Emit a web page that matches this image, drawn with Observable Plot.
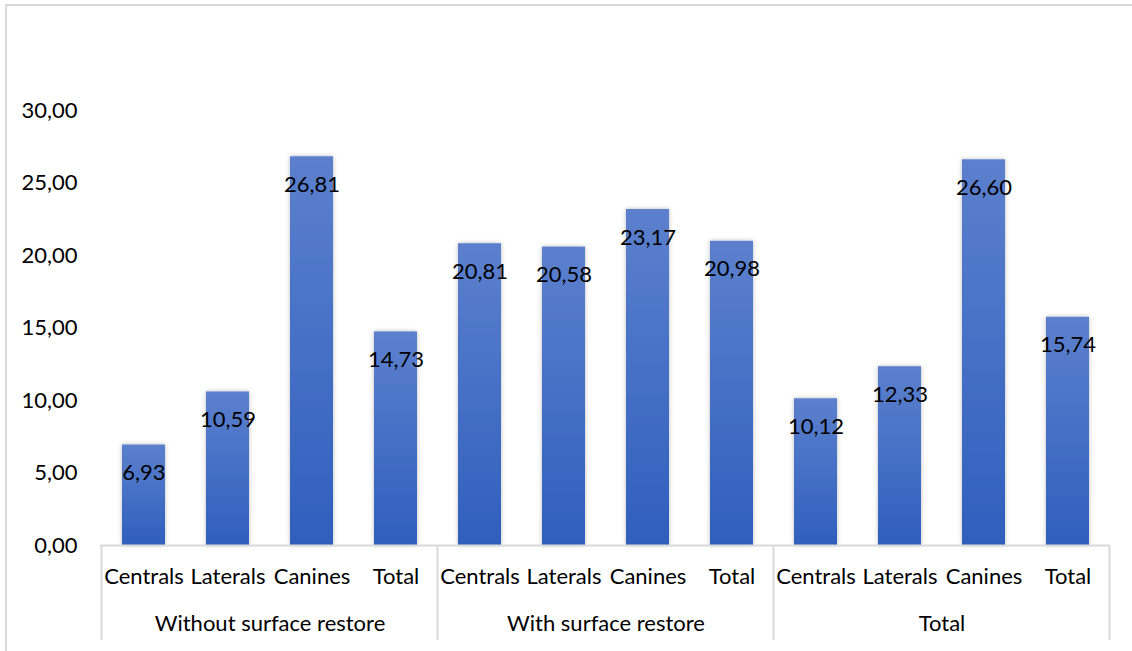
<!DOCTYPE html>
<html>
<head>
<meta charset="utf-8">
<script src="https://cdn.jsdelivr.net/npm/d3@7"></script>
<script src="https://cdn.jsdelivr.net/npm/@observablehq/plot@0.6"></script>
<style>
  html, body { margin: 0; padding: 0; background: #fff; }
  #frame { position: absolute; left: 5px; top: 4px; width: 1140px; height: 660px; border: 2px solid #d9d9d9; box-sizing: border-box; }
  #chart { position: absolute; left: 0; top: 0; }
  #chart svg { background: transparent; overflow: visible; }
</style>
</head>
<body>
<div id="frame"></div>
<div id="chart"></div>
<script>
const groups = ["Without surface restore", "With surface restore", "Total"];
const categories = ["Centrals", "Laterals", "Canines", "Total"];
const withoutRestore = [6.93, 10.59, 26.81, 14.73];
const withRestore = [20.81, 20.58, 23.17, 20.98];
const totals = [10.12, 12.33, 26.60, 15.74];
const yTicks = [0, 5, 10, 15, 20, 25, 30];

const series = [withoutRestore, withRestore, totals];
const data = [];
groups.forEach((g, gi) => categories.forEach((c, ci) => {
  data.push({group: g, cat: c, key: g + "|" + c, value: series[gi][ci]});
}));
const keys = data.map(d => d.key);
const fmt = v => v.toFixed(2).replace(".", ",");
const FONT = "Lato, 'Open Sans', sans-serif";
const FS = 22;

const defs = () => {
  const svgNS = "http://www.w3.org/2000/svg";
  const d = document.createElementNS(svgNS, "defs");
  d.innerHTML = `<linearGradient id="barGrad" x1="0" y1="0" x2="0" y2="1">
      <stop offset="0" stop-color="#5c80cd"/>
      <stop offset="1" stop-color="#2f5fbd"/>
    </linearGradient>
    <filter id="shadow" x="-30%" y="-5%" width="160%" height="110%">
      <feDropShadow dx="0" dy="0" stdDeviation="2" flood-color="#000" flood-opacity="0.28"/>
    </filter>`;
  return d;
};

const separators = (index, scales, values, dims) => {
  const x = scales.x;
  const step = x.step();
  const y0 = dims.height - dims.marginBottom;
  const g = d3.create("svg:g").attr("stroke", "#d9d9d9").attr("stroke-width", 2);
  const bounds = groups.map(gr => x(gr + "|" + categories[0]) - (step - x.bandwidth()) / 2);
  bounds.push(x(groups[groups.length - 1] + "|" + categories[categories.length - 1]) + x.bandwidth() + (step - x.bandwidth()) / 2);
  bounds.forEach(b => g.append("line").attr("x1", b).attr("x2", b).attr("y1", y0).attr("y2", y0 + 95));
  return g.node();
};

const chart = Plot.plot({
  width: 1132,
  height: 651,
  marginLeft: 100,
  marginRight: 22,
  marginTop: 110,
  marginBottom: 106,
  style: {fontFamily: FONT, fontSize: FS + "px", color: "#000", background: "transparent"},
  x: {domain: keys, paddingInner: 0.49, paddingOuter: 0.245, axis: null},
  y: {domain: [0, 30], ticks: yTicks, tickFormat: fmt, tickSize: 0, tickPadding: 23, label: null},
  marks: [
    defs,
    Plot.barY(data, {x: "key", y: "value", fill: "url(#barGrad)"}),
    Plot.ruleY([0], {stroke: "#d9d9d9", strokeWidth: 2}),
    separators,
    Plot.text(data, {x: "key", y: "value", text: d => fmt(d.value), dy: 28, fontSize: FS, fill: "#000"}),
    Plot.text(data, {x: "key", text: "cat", frameAnchor: "bottom", dy: 38, fontSize: FS, fill: "#000"}),
    Plot.text(groups.map(g => ({g, key: g + "|" + categories[1]})), {x: "key", text: "g", frameAnchor: "bottom", dy: 85, dx: 42, fontSize: FS, fill: "#000"})
  ]
});
chart.querySelectorAll("[aria-label='bar'] rect").forEach(r => r.setAttribute("filter", "url(#shadow)"));
document.getElementById("chart").appendChild(chart);
</script>
</body>
</html>
